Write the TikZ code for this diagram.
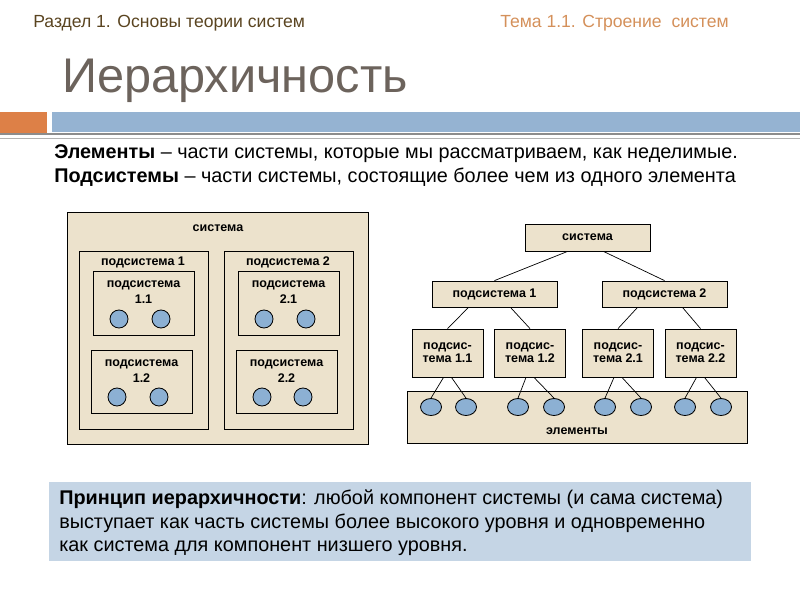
\documentclass[tikz,border=0pt]{standalone}
\usepackage{fontspec}
\setmainfont{Liberation Sans}
\usetikzlibrary{calc,shapes.geometric}
\definecolor{boxtan}{RGB}{236,226,204}
\definecolor{elemblue}{RGB}{140,176,211}
\definecolor{barblue}{RGB}{149,179,210}
\definecolor{barorange}{RGB}{221,128,71}
\definecolor{titlegray}{RGB}{108,99,92}
\definecolor{headbrown}{RGB}{90,68,32}
\definecolor{headorange}{RGB}{212,144,90}
\definecolor{notefill}{RGB}{197,213,229}
\tikzset{
	container/.style={draw=black, fill=boxtan, line width=0.6pt},
	lbl/.style={font=\fontsize{8.9}{11.4}\selectfont\bfseries, align=center, inner sep=0pt},
	treebox/.style={draw=black, fill=boxtan, line width=0.6pt, font=\fontsize{8.9}{9.4}\selectfont\bfseries, align=center, inner sep=0pt},
	ball/.style={circle, draw=black, fill=elemblue, line width=0.6pt, minimum size=0.45cm, inner sep=0pt},
	egg/.style={ellipse, draw=black, fill=elemblue, line width=0.6pt, minimum width=0.525cm, minimum height=0.425cm, inner sep=0pt},
	link/.style={line width=0.5pt},
	bodytext/.style={anchor=base west, inner sep=0pt, font=\fontsize{14.1}{16}\selectfont},
	headtext/.style={anchor=base west, inner sep=0pt, font=\fontsize{12.5}{14}\selectfont},
}

\begin{document}
\begin{tikzpicture}[x=0.025cm, y=-0.025cm]
			%%%%% START %%%%%
			\useasboundingbox (0,0) rectangle (800,600);
			
			\node[headtext, color=headbrown] (part) at (33,27) {Раздел 1. Основы теории систем};
			\node[headtext, color=headorange] (topic) at (500,27) {Тема 1.1. Строение\ \ систем};
			\node[anchor=base west, inner sep=0pt, color=titlegray, font=\fontsize{34.6}{38}\selectfont] (title) at (62,92) {Иерархичность};
			
			\fill[barorange] (0,112) rectangle (47,133);
			\fill[barblue] (52,112) rectangle (800,132);
			\draw[line width=1.6pt, color=black!45] (0,134) -- (800,134);
			\draw[line width=0.6pt, color=black!30] (0,138) -- (800,138);
			
			\node[bodytext] (elements) at (54,158) {\textbf{Элементы} – части системы, которые мы рассматриваем, как неделимые.};
			\node[bodytext] (subsystems) at (54,182) {\textbf{Подсистемы} – части системы, состоящие более чем из одного элемента};
			
			% nested view
			\draw[container] (67,212) rectangle (368,444);
			\node[lbl] (nsys) at (218,228) {система};
			
			\draw[container] (79,251) rectangle (208,429);
			\node[lbl] (nsub1) at (143,262) {подсистема 1};
			\draw[container] (224,251) rectangle (353,429);
			\node[lbl] (nsub2) at (288,262) {подсистема 2};
			
			\draw[container] (93,271) rectangle (194,335);
			\node[lbl] (n11) at (143.5,292) {подсистема\\1.1};
			\node[ball] (a1) at (119,319) {};
			\node[ball] (a2) at (161,319) {};
			
			\draw[container] (91,350) rectangle (192,413);
			\node[lbl] (n12) at (141.5,371) {подсистема\\1.2};
			\node[ball] (a3) at (117,397) {};
			\node[ball] (a4) at (159,397) {};
			
			\draw[container] (238,271) rectangle (339,335);
			\node[lbl] (n21) at (288.5,292) {подсистема\\2.1};
			\node[ball] (a5) at (264,319) {};
			\node[ball] (a6) at (306,319) {};
			
			\draw[container] (236,350) rectangle (337,413);
			\node[lbl] (n22) at (286.5,371) {подсистема\\2.2};
			\node[ball] (a7) at (262,397) {};
			\node[ball] (a8) at (303,397) {};
			
			% tree view
			\node[treebox, minimum width=3.125cm, minimum height=0.675cm] (sys) at (587.5,237.5) {система};
			\node[treebox, minimum width=3.125cm, minimum height=0.65cm] (s1) at (494.5,294) {подсистема 1};
			\node[treebox, minimum width=3.125cm, minimum height=0.65cm] (s2) at (664.5,294) {подсистема 2};
			
			\node[treebox, minimum width=1.775cm, minimum height=1.2cm] (t11) at (447.5,353) {подсис-\\тема 1.1};
			\node[treebox, minimum width=1.775cm, minimum height=1.2cm] (t12) at (530,353) {подсис-\\тема 1.2};
			\node[treebox, minimum width=1.775cm, minimum height=1.2cm] (t21) at (618,353) {подсис-\\тема 2.1};
			\node[treebox, minimum width=1.775cm, minimum height=1.2cm] (t22) at (700.5,353) {подсис-\\тема 2.2};
			
			\draw[container] (407,391) rectangle (747,443);
			\node[lbl] (elem) at (577,431) {элементы};
			
			\node[egg] (e1) at (431,407) {};
			\node[egg] (e2) at (466,407) {};
			\node[egg] (e3) at (518,407) {};
			\node[egg] (e4) at (554,407) {};
			\node[egg] (e5) at (605,407) {};
			\node[egg] (e6) at (641,407) {};
			\node[egg] (e7) at (685,407) {};
			\node[egg] (e8) at (721,407) {};
			
			\draw[link] ($(sys.south)+(-20,0)$) -- (s1.north);
			\draw[link] ($(sys.south)+(16,0)$) -- (s2.north);
			\draw[link] ($(s1.south)+(-26,0)$) -- (t11.north);
			\draw[link] ($(s1.south)+(16,0)$) -- (t12.north);
			\draw[link] ($(s2.south)+(-27,0)$) -- (t21.north);
			\draw[link] ($(s2.south)+(18,0)$) -- (t22.north);
			
			\draw[link] ($(t11.south)+(-4,0)$) -- (e1.north);
			\draw[link] ($(t11.south)+(4,0)$) -- (e2.north);
			\draw[link] ($(t12.south)+(-4,0)$) -- (e3.north);
			\draw[link] ($(t12.south)+(4,0)$) -- (e4.north);
			\draw[link] ($(t21.south)+(-4,0)$) -- (e5.north);
			\draw[link] ($(t21.south)+(4,0)$) -- (e6.north);
			\draw[link] ($(t22.south)+(-4,0)$) -- (e7.north);
			\draw[link] ($(t22.south)+(4,0)$) -- (e8.north);
			
			% principle
			\fill[notefill] (49,482) rectangle (751,561);
			\node[bodytext] (note1) at (59,504) {\textbf{Принцип иерархичности}: любой компонент системы (и сама система)};
			\node[bodytext] (note2) at (59,528) {выступает как часть системы более высокого уровня и одновременно};
			\node[bodytext] (note3) at (59,551) {как система для компонент низшего уровня.};
			
			%%%%% END %%%%%
\end{tikzpicture}
\end{document}
